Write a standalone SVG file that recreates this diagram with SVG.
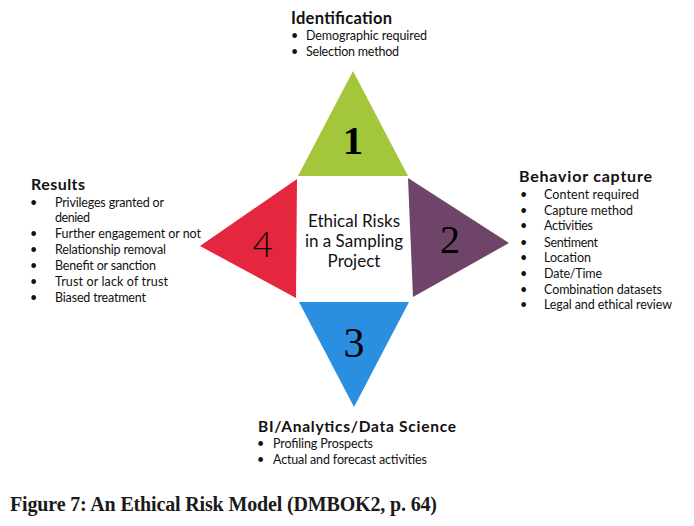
<svg xmlns="http://www.w3.org/2000/svg" width="694" height="526" viewBox="0 0 694 526">
<style>
.hd{font-family:Lato,"Open Sans","Liberation Sans",sans-serif;font-weight:700;fill:#111}
.bl{font-family:Lato,"Open Sans","Liberation Sans",sans-serif;font-size:12.5px;fill:#111}
.num{font-family:"Liberation Serif","Times New Roman",serif;fill:#000;text-anchor:middle}
.ctr{font-family:Lato,"Open Sans","Liberation Sans",sans-serif;font-size:17px;fill:#111;text-anchor:middle}
.cap{font-family:"Liberation Serif","Times New Roman",serif;font-size:20px;font-weight:700;fill:#1a1a1a}
</style>
<rect width="694" height="526" fill="#fff"/>
<g id="connectors"/>
<g id="node-1">
<polygon points="353,71 298,176 408,176" fill="#a4c63b"/>
<text class="num" x="353" y="154" font-size="41" font-weight="700">1</text>
<text class="hd" x="291" y="24" font-size="16.5" textLength="101">Identification</text>
<text class="bl" x="291" y="40">•</text><text class="bl" x="306" y="40" textLength="121">Demographic required</text>
<text class="bl" x="291" y="56">•</text><text class="bl" x="306" y="56" textLength="93">Selection method</text>
</g>
<g id="node-2">
<polygon points="408,178 509,243 413,297" fill="#6f4469"/>
<text class="num" x="450" y="253" font-size="40">2</text>
<text class="hd" x="519" y="182" font-size="16" textLength="133">Behavior capture</text>
<g class="bl">
<text x="520" y="199">•</text><text x="544" y="199" textLength="95">Content required</text>
<text x="520" y="215">•</text><text x="544" y="215" textLength="89">Capture method</text>
<text x="520" y="230">•</text><text x="544" y="230" textLength="49">Activities</text>
<text x="520" y="247">•</text><text x="544" y="247" textLength="54">Sentiment</text>
<text x="520" y="262">•</text><text x="544" y="262" textLength="47">Location</text>
<text x="520" y="278">•</text><text x="544" y="278" textLength="58">Date/Time</text>
<text x="520" y="294">•</text><text x="544" y="294" textLength="118">Combination datasets</text>
<text x="520" y="309">•</text><text x="544" y="309" textLength="128">Legal and ethical review</text>
</g>
</g>
<g id="node-3">
<polygon points="299,302 409,302 354,407" fill="#2a8fe0"/>
<text class="num" x="354" y="357" font-size="42">3</text>
<text class="hd" x="258" y="432" font-size="15.5" textLength="198">BI/Analytics/Data Science</text>
<text class="bl" x="257" y="448">•</text><text class="bl" x="273" y="448" textLength="100">Profiling Prospects</text>
<text class="bl" x="257" y="464">•</text><text class="bl" x="273" y="464" textLength="154">Actual and forecast activities</text>
</g>
<g id="node-4">
<polygon points="200,246 297,179 296,298" fill="#e4263f"/>
<text x="263" y="257" font-family="Lato,'Open Sans','Liberation Sans',sans-serif" font-weight="300" font-size="35" fill="#000" text-anchor="middle">4</text>
<text class="hd" x="31" y="190" font-size="16" textLength="54">Results</text>
<g class="bl">
<text x="30" y="207">•</text><text x="55" y="207" textLength="109">Privileges granted or</text>
<text x="55" y="222" textLength="35">denied</text>
<text x="30" y="238">•</text><text x="55" y="238" textLength="146">Further engagement or not</text>
<text x="30" y="254">•</text><text x="55" y="254" textLength="111">Relationship removal</text>
<text x="30" y="270">•</text><text x="55" y="270" textLength="101">Benefit or sanction</text>
<text x="30" y="286">•</text><text x="55" y="286" textLength="113">Trust or lack of trust</text>
<text x="30" y="302">•</text><text x="55" y="302" textLength="91">Biased treatment</text>
</g>
</g>
<g id="center">
<text class="ctr" x="354" y="227">Ethical Risks</text>
<text class="ctr" x="354" y="247">in a Sampling</text>
<text class="ctr" x="354" y="267">Project</text>
</g>
<text class="cap" x="10" y="511" textLength="427">Figure 7: An Ethical Risk Model (DMBOK2, p. 64)</text>
</svg>
